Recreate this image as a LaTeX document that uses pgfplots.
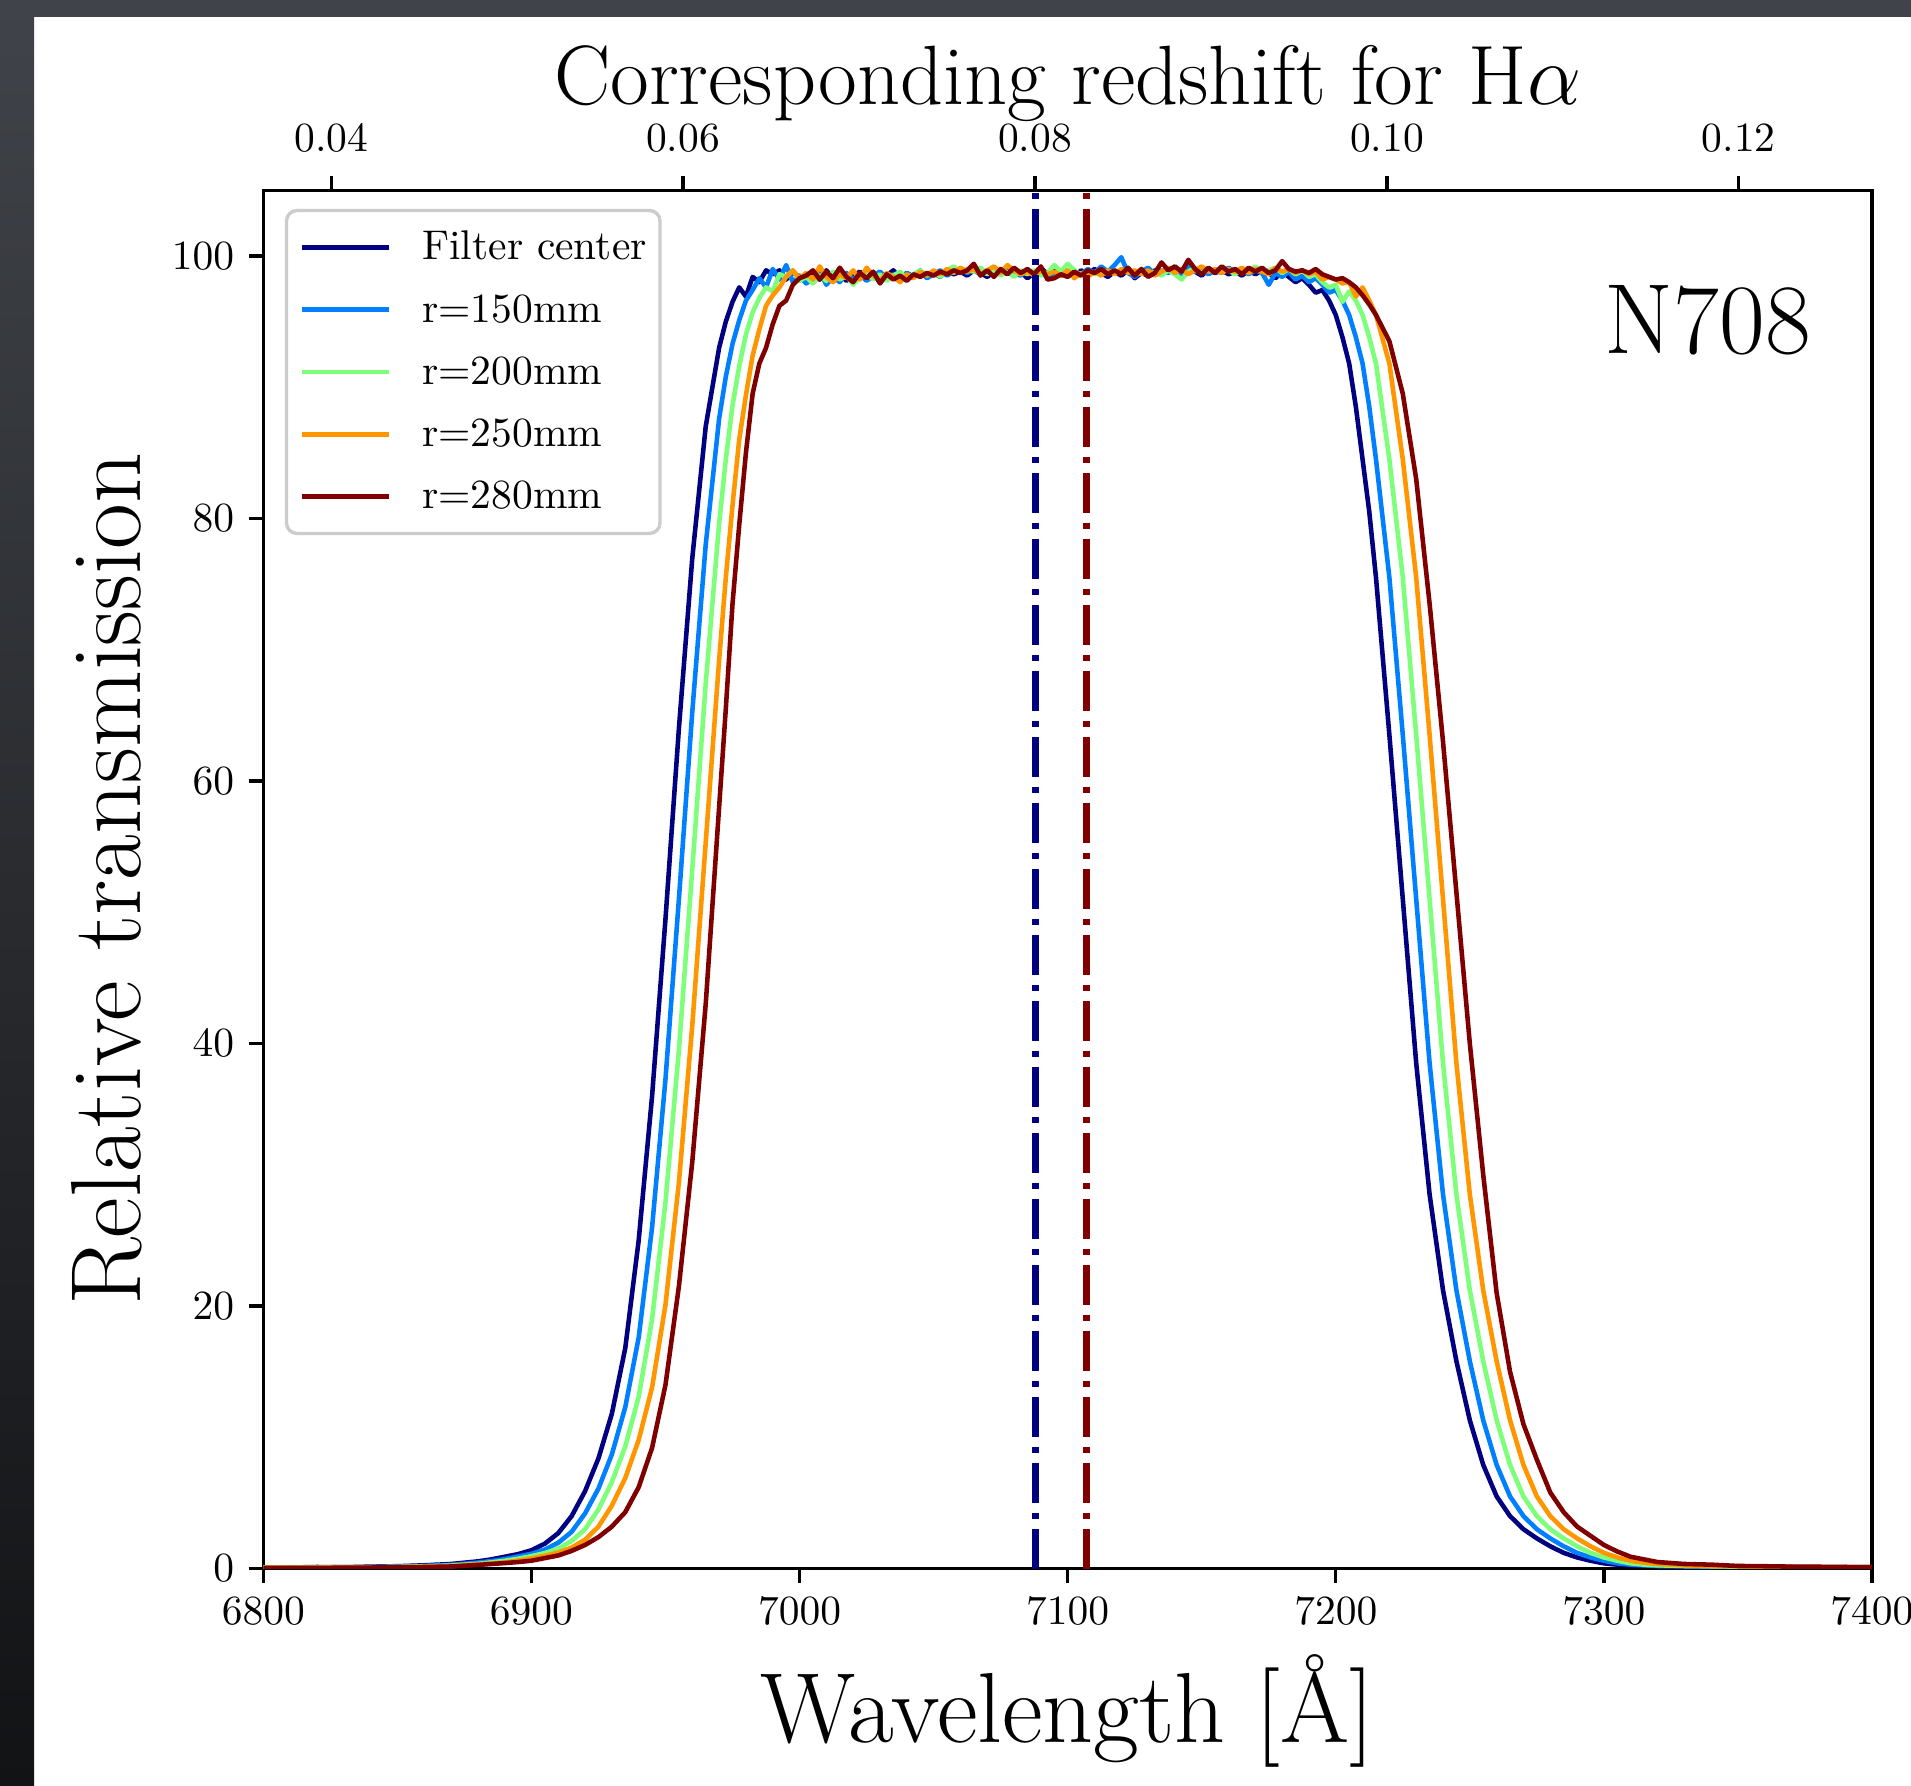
\documentclass[border=0pt]{standalone}
\usepackage{pgfplots}
\usepackage{pgfplotstable}
\pgfplotsset{compat=1.18}
\definecolor{jet0}{rgb}{0,0,0.5}
\definecolor{jet1}{rgb}{0,0.5,1}
\definecolor{jet2}{rgb}{0.49,1,0.48}
\definecolor{jet3}{rgb}{1,0.59,0}
\definecolor{jet4}{rgb}{0.5,0,0}
\definecolor{legframe}{rgb}{0.8,0.8,0.8}
\definecolor{frametop}{RGB}{64,67,73}
\definecolor{framebot}{RGB}{18,19,21}

\pgfplotstableread{
x N B G O R
6800 0.10 0.08 0.10 0.06 0.05
6810 0.08 0.10 0.07 0.08 0.06
6820 0.12 0.09 0.08 0.07 0.05
6830 0.10 0.11 0.09 0.08 0.07
6840 0.15 0.12 0.10 0.09 0.08
6850 0.18 0.15 0.13 0.11 0.10
6860 0.25 0.20 0.17 0.14 0.12
6870 0.35 0.28 0.23 0.19 0.16
6880 0.55 0.45 0.36 0.32 0.28
6885 0.70 0.57 0.47 0.39 0.35
6890 0.90 0.72 0.59 0.47 0.42
6895 1.10 0.92 0.75 0.61 0.50
6900 1.40 1.13 0.95 0.78 0.60
6905 1.90 1.45 1.18 0.98 0.80
6910 2.70 1.97 1.53 1.22 1.00
6915 4.00 2.80 2.10 1.60 1.35
6920 5.90 4.20 3.00 2.20 1.80
6925 8.40 6.10 4.50 3.20 2.40
6930 11.8 8.70 6.60 4.80 3.20
6935 16.8 12.3 9.30 6.90 4.30
6940 25.0 17.6 13.1 9.80 6.20
6945 36.0 26.0 19.0 13.8 9.20
6950 49.5 37.3 27.9 20.1 14.0
6955 64.0 51.0 39.5 29.4 21.5
6960 77.0 65.3 53.3 41.4 31.0
6965 87.0 78.0 67.4 55.3 43.0
6970 93.0 87.6 79.6 69.2 58.0
6972.5 95.0 90.8 84.5 75.5 65.5
6975 96.5 93.3 88.6 81.0 73.5
6977.5 97.6 95.1 91.6 86.0 79.5
6980 96.9 96.6 94.0 89.4 85.0
6982.5 98.4 97.4 95.7 92.4 89.5
6985 98.0 98.3 96.8 94.4 91.8
6987.5 98.9 97.6 97.6 96.2 93.0
6990 98.6 99.0 97.3 97.0 94.8
6992.5 98.9 98.2 98.6 97.6 96.2
6995 98.2 99.3 98.4 98.4 96.6
6997.5 98.7 98.0 98.9 98.9 97.8
7000 98.4 98.5 98.1 98.3 98.3
7002.5 98.0 97.9 98.4 98.7 98.5
7005 98.6 98.3 97.9 98.2 98.9
7007.5 98.2 98.8 98.5 99.2 98.2
7010 98.9 97.8 98.1 98.4 98.8
7012.5 98.3 98.4 98.8 98.0 98.3
7015 98.6 98.0 98.2 98.6 99.1
7017.5 98.1 98.7 98.5 98.3 98.4
7020 98.5 98.2 97.8 98.9 98.0
7022.5 98.8 98.6 98.4 98.2 98.7
7025 98.2 98.1 98.7 99.1 98.3
7027.5 98.6 98.5 98.2 98.5 98.8
7030 98.0 98.8 98.6 98.1 97.9
7032.5 98.5 98.3 98.1 98.7 98.6
7035 98.9 98.6 98.5 98.4 98.2
7037.5 98.3 98.2 98.8 98.0 98.5
7040 98.7 98.7 98.3 98.6 98.1
7042.5 98.4 98.4 98.6 98.3 98.6
7045 98.8 98.9 98.9 98.8 98.4
7047.5 98.5 98.3 98.5 98.5 98.7
7050 98.7 98.6 98.8 98.9 98.5
7052.5 98.4 98.9 98.4 98.6 98.8
7055 98.9 98.5 98.9 99.0 98.6
7057.5 98.6 98.8 99.2 98.7 98.9
7060 98.8 99.0 98.7 99.1 98.7
7062.5 98.5 98.7 99.0 98.8 98.9
7065 98.9 98.9 98.8 99.0 99.4
7067.5 98.7 98.6 99.1 98.6 98.5
7070 98.4 98.8 98.6 98.9 98.9
7072.5 98.8 99.1 98.9 99.2 98.4
7075 98.6 98.6 98.5 98.7 99.0
7077.5 98.9 98.9 98.8 99.3 98.6
7080 98.5 98.7 98.4 98.9 99.1
7082.5 98.8 98.5 98.9 98.6 98.7
7085 98.3 98.9 98.6 98.8 99.0
7087.5 98.7 98.6 98.9 98.5 98.6
7090 99.1 98.8 98.5 98.9 99.2
7092.5 98.6 98.4 98.7 98.6 98.2
7095 98.9 98.7 99.3 98.8 98.3
7097.5 98.5 98.9 98.8 98.5 98.6
7100 98.8 98.5 99.4 98.9 98.4
7102.5 98.4 98.8 98.9 98.3 98.8
7105 98.9 98.6 98.5 98.7 98.5
7107.5 98.6 99.0 98.8 98.4 98.9
7110 99.0 98.7 98.6 98.8 98.7
7112.5 98.7 99.2 98.9 98.5 99.0
7115 98.4 98.8 98.6 98.9 98.6
7117.5 98.8 99.3 98.9 98.6 98.9
7120 98.5 99.9 98.7 99.0 98.6
7122.5 98.9 98.7 99.0 98.7 99.1
7125 98.3 98.4 98.6 98.9 98.5
7127.5 98.7 98.8 98.9 98.6 99.0
7130 98.5 99.1 98.5 98.9 98.4
7132.5 98.9 98.6 98.8 98.5 98.7
7135 98.6 98.9 98.5 98.8 99.5
7137.5 99.0 98.7 98.9 99.1 98.9
7140 98.7 99.0 98.6 98.7 99.2
7142.5 98.9 98.6 98.2 99.0 98.8
7145 99.3 99.2 98.8 98.6 99.7
7147.5 98.8 98.8 99.1 98.9 99.0
7150 98.5 99.0 98.7 99.2 98.6
7152.5 99.0 98.6 99.0 98.8 99.1
7155 98.7 98.9 98.8 99.0 98.7
7157.5 98.9 98.7 99.1 98.7 99.2
7160 98.6 99.1 98.9 99.0 98.8
7162.5 98.8 98.8 98.6 98.8 99.0
7165 98.5 99.0 99.0 99.1 98.6
7167.5 98.9 98.6 98.8 98.7 99.1
7170 98.6 98.9 99.2 99.0 98.8
7172.5 98.9 98.7 98.8 98.8 99.1
7175 98.7 97.8 98.9 98.6 98.7
7177.5 98.3 98.7 99.1 99.1 98.9
7180 98.8 98.4 98.7 98.8 99.6
7182.5 98.4 98.8 99.0 99.0 99.0
7185 98.0 98.2 98.6 98.7 98.8
7187.5 98.3 98.5 98.9 98.9 98.9
7190 97.8 98.0 98.4 98.6 98.7
7192.5 97.2 98.3 98.6 98.8 99.0
7195 97.4 97.8 98.0 98.2 98.6
7197.5 96.6 97.2 97.6 98.4 98.4
7200 95.5 97.4 97.8 98.2 98.2
7202.5 93.8 96.6 96.5 97.9 98.3
7205 91.8 95.5 97.3 98.0 98.0
7207.5 88.5 93.8 96.6 96.9 97.6
7210 84.5 91.8 95.5 97.6 97.0
7212.5 80.5 88.5 93.8 96.6 96.3
7215 75.5 84.5 91.8 95.5 95.5
7220 63.5 75.5 84.5 91.8 93.5
7225 51.0 63.5 75.5 84.5 89.5
7230 38.5 51.0 63.5 75.5 83.0
7235 28.5 38.5 51.0 63.5 73.5
7240 21.2 28.5 38.5 51.0 63.0
7245 15.8 21.2 28.5 38.5 51.5
7250 11.3 15.8 21.2 28.5 40.0
7255 7.90 11.3 15.8 21.2 30.0
7260 5.50 7.90 11.3 15.8 21.0
7265 4.00 5.50 7.90 11.3 15.0
7270 3.00 4.00 5.50 7.90 11.0
7275 2.30 3.00 4.00 5.50 8.30
7280 1.70 2.30 3.00 4.00 5.80
7285 1.20 1.70 2.30 3.00 4.30
7290 0.85 1.20 1.70 2.30 3.20
7295 0.60 0.85 1.20 1.70 2.50
7300 0.40 0.60 0.85 1.20 1.80
7305 0.30 0.40 0.60 0.85 1.30
7310 0.25 0.30 0.40 0.60 0.90
7315 0.20 0.25 0.30 0.45 0.70
7320 0.20 0.20 0.25 0.35 0.50
7330 0.15 0.18 0.20 0.25 0.35
7340 0.12 0.15 0.18 0.20 0.30
7350 0.10 0.12 0.15 0.18 0.20
7360 0.12 0.10 0.12 0.15 0.18
7370 0.10 0.12 0.10 0.12 0.15
7380 0.08 0.10 0.12 0.10 0.14
7390 0.10 0.08 0.10 0.12 0.12
7400 0.10 0.10 0.08 0.10 0.10
}\filt

\begin{document}
\begin{tikzpicture}
\useasboundingbox (-63.45pt,-52.17pt) rectangle (397.0pt,377.95pt);
\fill[white] (-63.45pt,-52.17pt) rectangle (397.0pt,377.95pt);
\fill[frametop] (-63.45pt,373.85pt) rectangle (397.0pt,377.95pt);
\shade[top color=frametop, bottom color=framebot] (-63.45pt,-52.17pt) rectangle (-55.25pt,377.95pt);

\begin{axis}[
  at={(0pt,0pt)}, anchor=south west, scale only axis,
  width=387.6pt, height=332.1pt,
  xmin=6800, xmax=7400, ymin=0, ymax=105,
  enlargelimits=false,
  xtick={6800,6900,7000,7100,7200,7300,7400},
  ytick={0,20,40,60,80,100},
  xtick pos=left, ytick pos=left,
  tick align=outside, major tick length=3.5pt,
  minor tick num=0,
  tick style={black, line width=0.8pt},
  axis line style={line width=0.8pt},
  scaled ticks=false,
  /pgf/number format/1000 sep={},
  tick label style={font=\fontsize{10}{12}\selectfont},
  xlabel={Wavelength [\AA]},
  xlabel style={font=\fontsize{24}{28}\selectfont, at={(axis description cs:0.5,-0.1265)}, anchor=base},
  ylabel={Relative transmission},
  ylabel style={font=\fontsize{24}{28}\selectfont, at={(axis description cs:-0.0766,0.5)}, anchor=base},
  legend style={at={(axis description cs:0.0134,0.9865)}, anchor=north west,
    draw=legframe, line width=0.8pt, rounded corners=2.5pt, fill=white,
    inner xsep=3.2pt, inner ysep=4.9pt, row sep=7pt, column sep=7.4pt,
    font=\fontsize{10}{12}\selectfont,
    nodes={inner sep=0pt, text height=7pt, text depth=1pt}},
  legend cell align=left,
  legend image code/.code={\draw[#1, line width=1.1pt, rounded corners=0pt] (0pt,0pt) -- (21pt,0pt);},
  every axis plot/.append style={line join=round, mark=none},
]
\addplot[jet0, line width=1.1pt] table[x=x,y=N]{\filt};
\addlegendentry{Filter center}
\addplot[jet1, line width=1.1pt] table[x=x,y=B]{\filt};
\addlegendentry{r=150mm}
\addplot[jet2, line width=1.1pt] table[x=x,y=G]{\filt};
\addlegendentry{r=200mm}
\addplot[jet3, line width=1.1pt] table[x=x,y=O]{\filt};
\addlegendentry{r=250mm}
\addplot[jet4, line width=1.1pt] table[x=x,y=R]{\filt};
\addlegendentry{r=280mm}
\addplot[jet0, line width=1.5pt, dash pattern=on 9.6pt off 2.4pt on 1.5pt off 2.4pt, forget plot] coordinates {(7088,0) (7088,105)};
\addplot[jet4, line width=1.5pt, dash pattern=on 9.6pt off 2.4pt on 1.5pt off 2.4pt, forget plot] coordinates {(7107,0) (7107,105)};
\node[anchor=base east, font=\fontsize{24}{28}\selectfont, inner sep=0pt] at (axis cs:7377.6,92.6) {N708};
\end{axis}

\begin{axis}[
  at={(0pt,0pt)}, anchor=south west, scale only axis,
  width=387.6pt, height=332.1pt,
  xmin=0.036143, xmax=0.127568, ymin=0, ymax=1,
  enlargelimits=false,
  axis x line*=top, axis y line=none,
  xtick={0.04,0.06,0.08,0.10,0.12},
  xticklabels={0.04,0.06,0.08,0.10,0.12},
  tick align=outside, major tick length=3.5pt,
  tick style={black, line width=0.8pt},
  axis line style={line width=0.8pt},
  xticklabel style={font=\fontsize{10}{12}\selectfont, inner sep=0pt, yshift=5.5pt},
  xlabel={Corresponding redshift for H$\alpha$},
  xlabel style={font=\fontsize{20.3}{24}\selectfont, inner sep=0pt, at={(axis description cs:0.5,1.0623)}, anchor=base},
]
\addplot[draw=none, forget plot] coordinates {(0.05,0.5)};
\end{axis}
\end{tikzpicture}
\end{document}
